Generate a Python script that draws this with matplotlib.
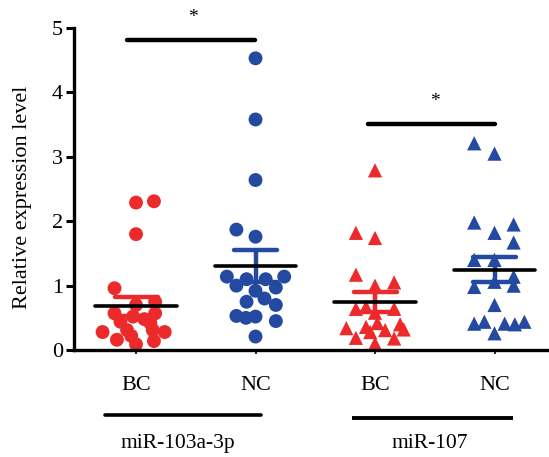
import matplotlib
matplotlib.use("Agg")
import matplotlib.pyplot as plt
import matplotlib.transforms as mtransforms
import numpy as np

plt.rcParams["font.family"] = ["Liberation Serif", "DejaVu Serif"]

# values; offsets are the horizontal scatter within a column
bc1_values = [2.29, 2.31, 1.80, 0.96, 0.75, 0.70, 0.57, 0.57, 0.52, 0.48,
              0.44, 0.42, 0.28, 0.31, 0.31, 0.28, 0.16, 0.09, 0.14, 0.22]
bc1_offsets = [0, 0.15, 0, -0.18, 0.16, 0, -0.18, 0.16, -0.025, 0.07,
               -0.13, 0.12, -0.28, -0.075, 0.14, 0.24, -0.16, 0, 0.15, -0.04]

nc1_values = [4.53, 3.58, 2.64, 1.87, 1.76, 1.14, 1.10, 1.10, 1.14, 1.00,
              0.97, 0.92, 0.75, 0.80, 0.70, 0.53, 0.52, 0.45, 0.21, 0.50]
nc1_offsets = [0, 0, 0, -0.16, 0, -0.24, -0.075, 0.085, 0.24, -0.16,
               0.17, 0, -0.075, 0.075, 0.17, -0.16, 0, 0.17, 0, -0.08]

bc2_values = [2.79, 1.82, 1.74, 1.17, 1.00, 1.05, 0.64, 0.67, 0.64, 0.58,
              0.34, 0.36, 0.42, 0.31, 0.40, 0.32, 0.19, 0.10, 0.18, 0.28]
bc2_offsets = [0, -0.16, 0, -0.16, 0, 0.16, -0.16, -0.075, 0.16, 0,
               -0.24, -0.075, 0.02, 0.085, 0.21, 0.24, -0.16, 0, 0.16, -0.04]

nc2_values = [3.21, 3.05, 1.98, 1.95, 1.82, 1.67, 1.40, 1.40, 1.14, 0.98,
              1.00, 1.06, 0.70, 0.41, 0.44, 0.41, 0.40, 0.44, 0.26]
nc2_offsets = [-0.17, 0, -0.17, 0.16, 0, 0.16, -0.17, 0, 0.16, -0.17,
               0.16, 0, 0, -0.17, -0.085, 0.085, 0.17, 0.25, 0]

column_labels = ["BC", "NC", "BC", "NC"]
group_labels = ["miR-103a-3p", "miR-107"]

RED = "#EC2A2C"
BLUE = "#2449A1"

columns = [
    (1, bc1_values, bc1_offsets, "o", RED),
    (2, nc1_values, nc1_offsets, "o", BLUE),
    (3, bc2_values, bc2_offsets, "^", RED),
    (4, nc2_values, nc2_offsets, "^", BLUE),
]

fig = plt.figure(figsize=(5.49, 4.57), dpi=100)
ax = fig.add_axes([0.1348, 0.234, 0.8652, 0.7047])

for pos, values, offsets, marker, color in columns:
    vals = np.asarray(values)
    xs = pos + np.asarray(offsets)
    ax.scatter(xs, vals, s=100 if marker == "o" else 105, marker=marker,
               color=color, edgecolors="none", zorder=2, clip_on=False)
    mean = vals.mean()
    sem = vals.std(ddof=1) / np.sqrt(len(vals))
    ax.plot([pos, pos], [mean - sem, mean + sem], color=color, lw=3.2,
            zorder=3, solid_capstyle="butt")
    for cap in (mean - sem, mean + sem):
        ax.plot([pos - 0.18, pos + 0.18], [cap, cap], color=color, lw=3.2,
                zorder=3, solid_capstyle="round")
    ax.plot([pos - 0.34, pos + 0.34], [mean, mean], color="black", lw=2.6,
            zorder=4, solid_capstyle="round")

# significance bars
ax.plot([0.925, 1.996], [4.82, 4.82], color="black", lw=3.2,
        solid_capstyle="round", clip_on=False)
ax.text(1.477, 5.17, "*", ha="center", va="center", fontsize=14, clip_on=False)
ax.plot([2.94, 4.0], [3.51, 3.51], color="black", lw=3.2,
        solid_capstyle="round", clip_on=False)
ax.text(3.50, 3.86, "*", ha="center", va="center", fontsize=14)

ax.set_xlim(0.481, 4.456)
ax.set_ylim(0, 5)
ax.set_yticks([0, 1, 2, 3, 4, 5])
ax.set_xticks([1, 2, 3, 4])
ax.set_xticklabels([])
ax.spines["top"].set_visible(False)
ax.spines["right"].set_visible(False)
ax.spines["left"].set_linewidth(2.4)
ax.spines["bottom"].set_linewidth(2.4)
ax.tick_params(axis="y", length=6, width=2.2, labelsize=16, pad=2)
ax.tick_params(axis="x", length=3, width=1.2)
ax.set_ylabel("Relative expression level", fontsize=16)
ax.yaxis.set_label_coords(-0.088, 0.475)

trans = mtransforms.blended_transform_factory(ax.transData, ax.transAxes)
for pos, label in zip([1, 2, 3, 4], column_labels):
    ax.text(pos, -0.109, label, transform=trans, ha="center", va="center",
            fontsize=16, clip_on=False)

ax.plot([0.74, 2.05], [-0.202, -0.202], transform=trans, color="black",
        lw=2.6, solid_capstyle="round", clip_on=False)
ax.plot([2.81, 4.155], [-0.211, -0.211], transform=trans, color="black",
        lw=2.8, solid_capstyle="butt", clip_on=False)
ax.text(1.35, -0.289, group_labels[0], transform=trans, ha="center",
        va="center", fontsize=15.5, clip_on=False)
ax.text(3.46, -0.289, group_labels[1], transform=trans, ha="center",
        va="center", fontsize=15.5, clip_on=False)

fig.savefig("out.png", dpi=100)
